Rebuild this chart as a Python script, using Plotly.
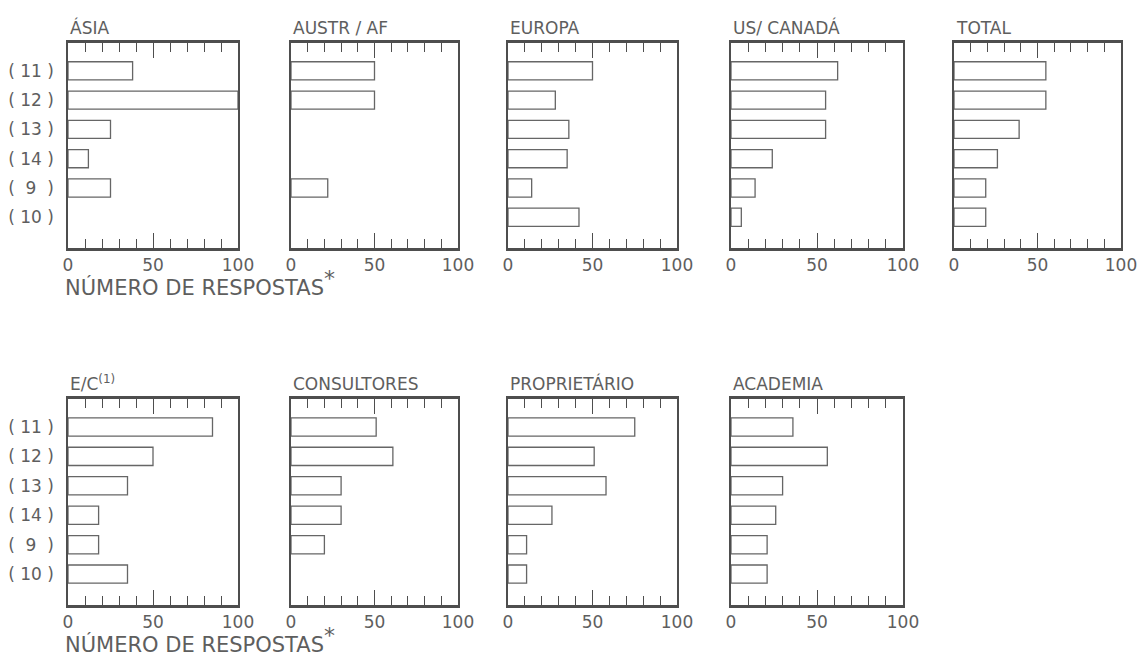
import plotly.graph_objects as go

# Response categories (rows, top to bottom) and axis ticks
NB = "\u00a0"
categories = [f"({NB}11{NB})", f"({NB}12{NB})", f"({NB}13{NB})",
              f"({NB}14{NB})", f"({NB}{NB}9{NB}{NB})", f"({NB}10{NB})"]
x_tickvals = [0, 50, 100]
x_ticktext = ["0", "50", "100"]

# Number of responses per group
asia = [38, 100, 25, 12, 25, 0]
austr_af = [50, 50, 0, 0, 22, 0]
europa = [50, 28, 36, 35, 14, 42]
us_canada = [62, 55, 55, 24, 14, 6]
total = [55, 55, 39, 26, 19, 19]
e_c = [85, 50, 35, 18, 18, 35]
consultores = [51, 61, 30, 30, 20, 0]
proprietario = [75, 51, 58, 26, 11, 11]
academia = [36, 56, 30, 26, 21, 21]

panel_titles = ["ÁSIA", "AUSTR / AF", "EUROPA", "US/ CANADÁ", "TOTAL",
                "E/C<sup>(1)</sup>", "CONSULTORES", "PROPRIETÁRIO", "ACADEMIA"]
panel_values = [asia, austr_af, europa, us_canada, total,
                e_c, consultores, proprietario, academia]

W, H = 1140, 660
INK = "#4e4e4e"
TEXT = "#5e5e5e"
FONT = "DejaVu Sans"

# panel frames in pixels: (left, right) per column, (top, bottom) per row
cols = [(68, 238), (291, 458), (508, 677), (731, 903), (954, 1121)]
rows = [(43, 248), (399, 605)]

fig = go.Figure()
layout = {}
annotations = []

for i, (title, vals) in enumerate(zip(panel_titles, panel_values)):
    r, c = (0, i) if i < 5 else (1, i - 5)
    n = i + 1
    xa = "xaxis" if n == 1 else f"xaxis{n}"
    ya = "yaxis" if n == 1 else f"yaxis{n}"
    xr = "x" if n == 1 else f"x{n}"
    yr = "y" if n == 1 else f"y{n}"
    left, right = cols[c]
    top, bottom = rows[r]

    # no outline for empty categories
    outline_w = [1.3 if v > 0 else 0 for v in vals]
    fig.add_trace(go.Bar(
        x=vals, y=list(range(len(categories))), orientation="h",
        width=0.62, xaxis=xr, yaxis=yr,
        marker=dict(color="white", line=dict(color="#666666", width=outline_w)),
        showlegend=False, hoverinfo="x",
    ))

    layout[xa] = dict(
        domain=[left / W, right / W], anchor=yr, range=[0, 100],
        automargin=False, showgrid=False, zeroline=False,
        showline=True, linecolor=INK, linewidth=2.6, mirror="allticks",
        ticks="inside", ticklen=15, tickwidth=1.4, tickcolor=INK,
        tickvals=x_tickvals, ticktext=x_ticktext,
        tickfont=dict(family=FONT, size=17, color=TEXT),
        minor=dict(ticks="inside", dtick=10, ticklen=9, tickwidth=1.4,
                   tickcolor=INK, showgrid=False),
        fixedrange=True,
    )
    layout[ya] = dict(
        domain=[1 - bottom / H, 1 - top / H], anchor=xr,
        automargin=False, range=[6.05, -0.95], showgrid=False, zeroline=False,
        showline=True, linecolor=INK, linewidth=1.5, mirror=True,
        ticks="", tickvals=list(range(len(categories))),
        ticktext=categories, showticklabels=(c == 0),
        ticklabelstandoff=9,
        tickfont=dict(family=FONT, size=17, color=TEXT),
        fixedrange=True,
    )

    annotations.append(dict(
        text=title, xref=f"{xr} domain", yref=f"{yr} domain",
        x=0, y=1, xanchor="left", yanchor="bottom", yshift=3, showarrow=False,
        font=dict(family=FONT, size=17, color=TEXT),
    ))
    if c == 0:
        annotations.append(dict(
            text="NÚMERO DE RESPOSTAS<sup><span style='font-size:22px'>*</span></sup>",
            xref=f"{xr} domain", yref=f"{yr} domain",
            x=0, y=0, xanchor="left", yanchor="top", xshift=-5, yshift=-16,
            showarrow=False, font=dict(family=FONT, size=21, color=TEXT),
        ))

fig.update_layout(
    width=W, height=H, margin=dict(l=0, r=0, t=0, b=0),
    paper_bgcolor="white", plot_bgcolor="white",
    annotations=annotations, **layout,
)

fig.write_html("out.html")
